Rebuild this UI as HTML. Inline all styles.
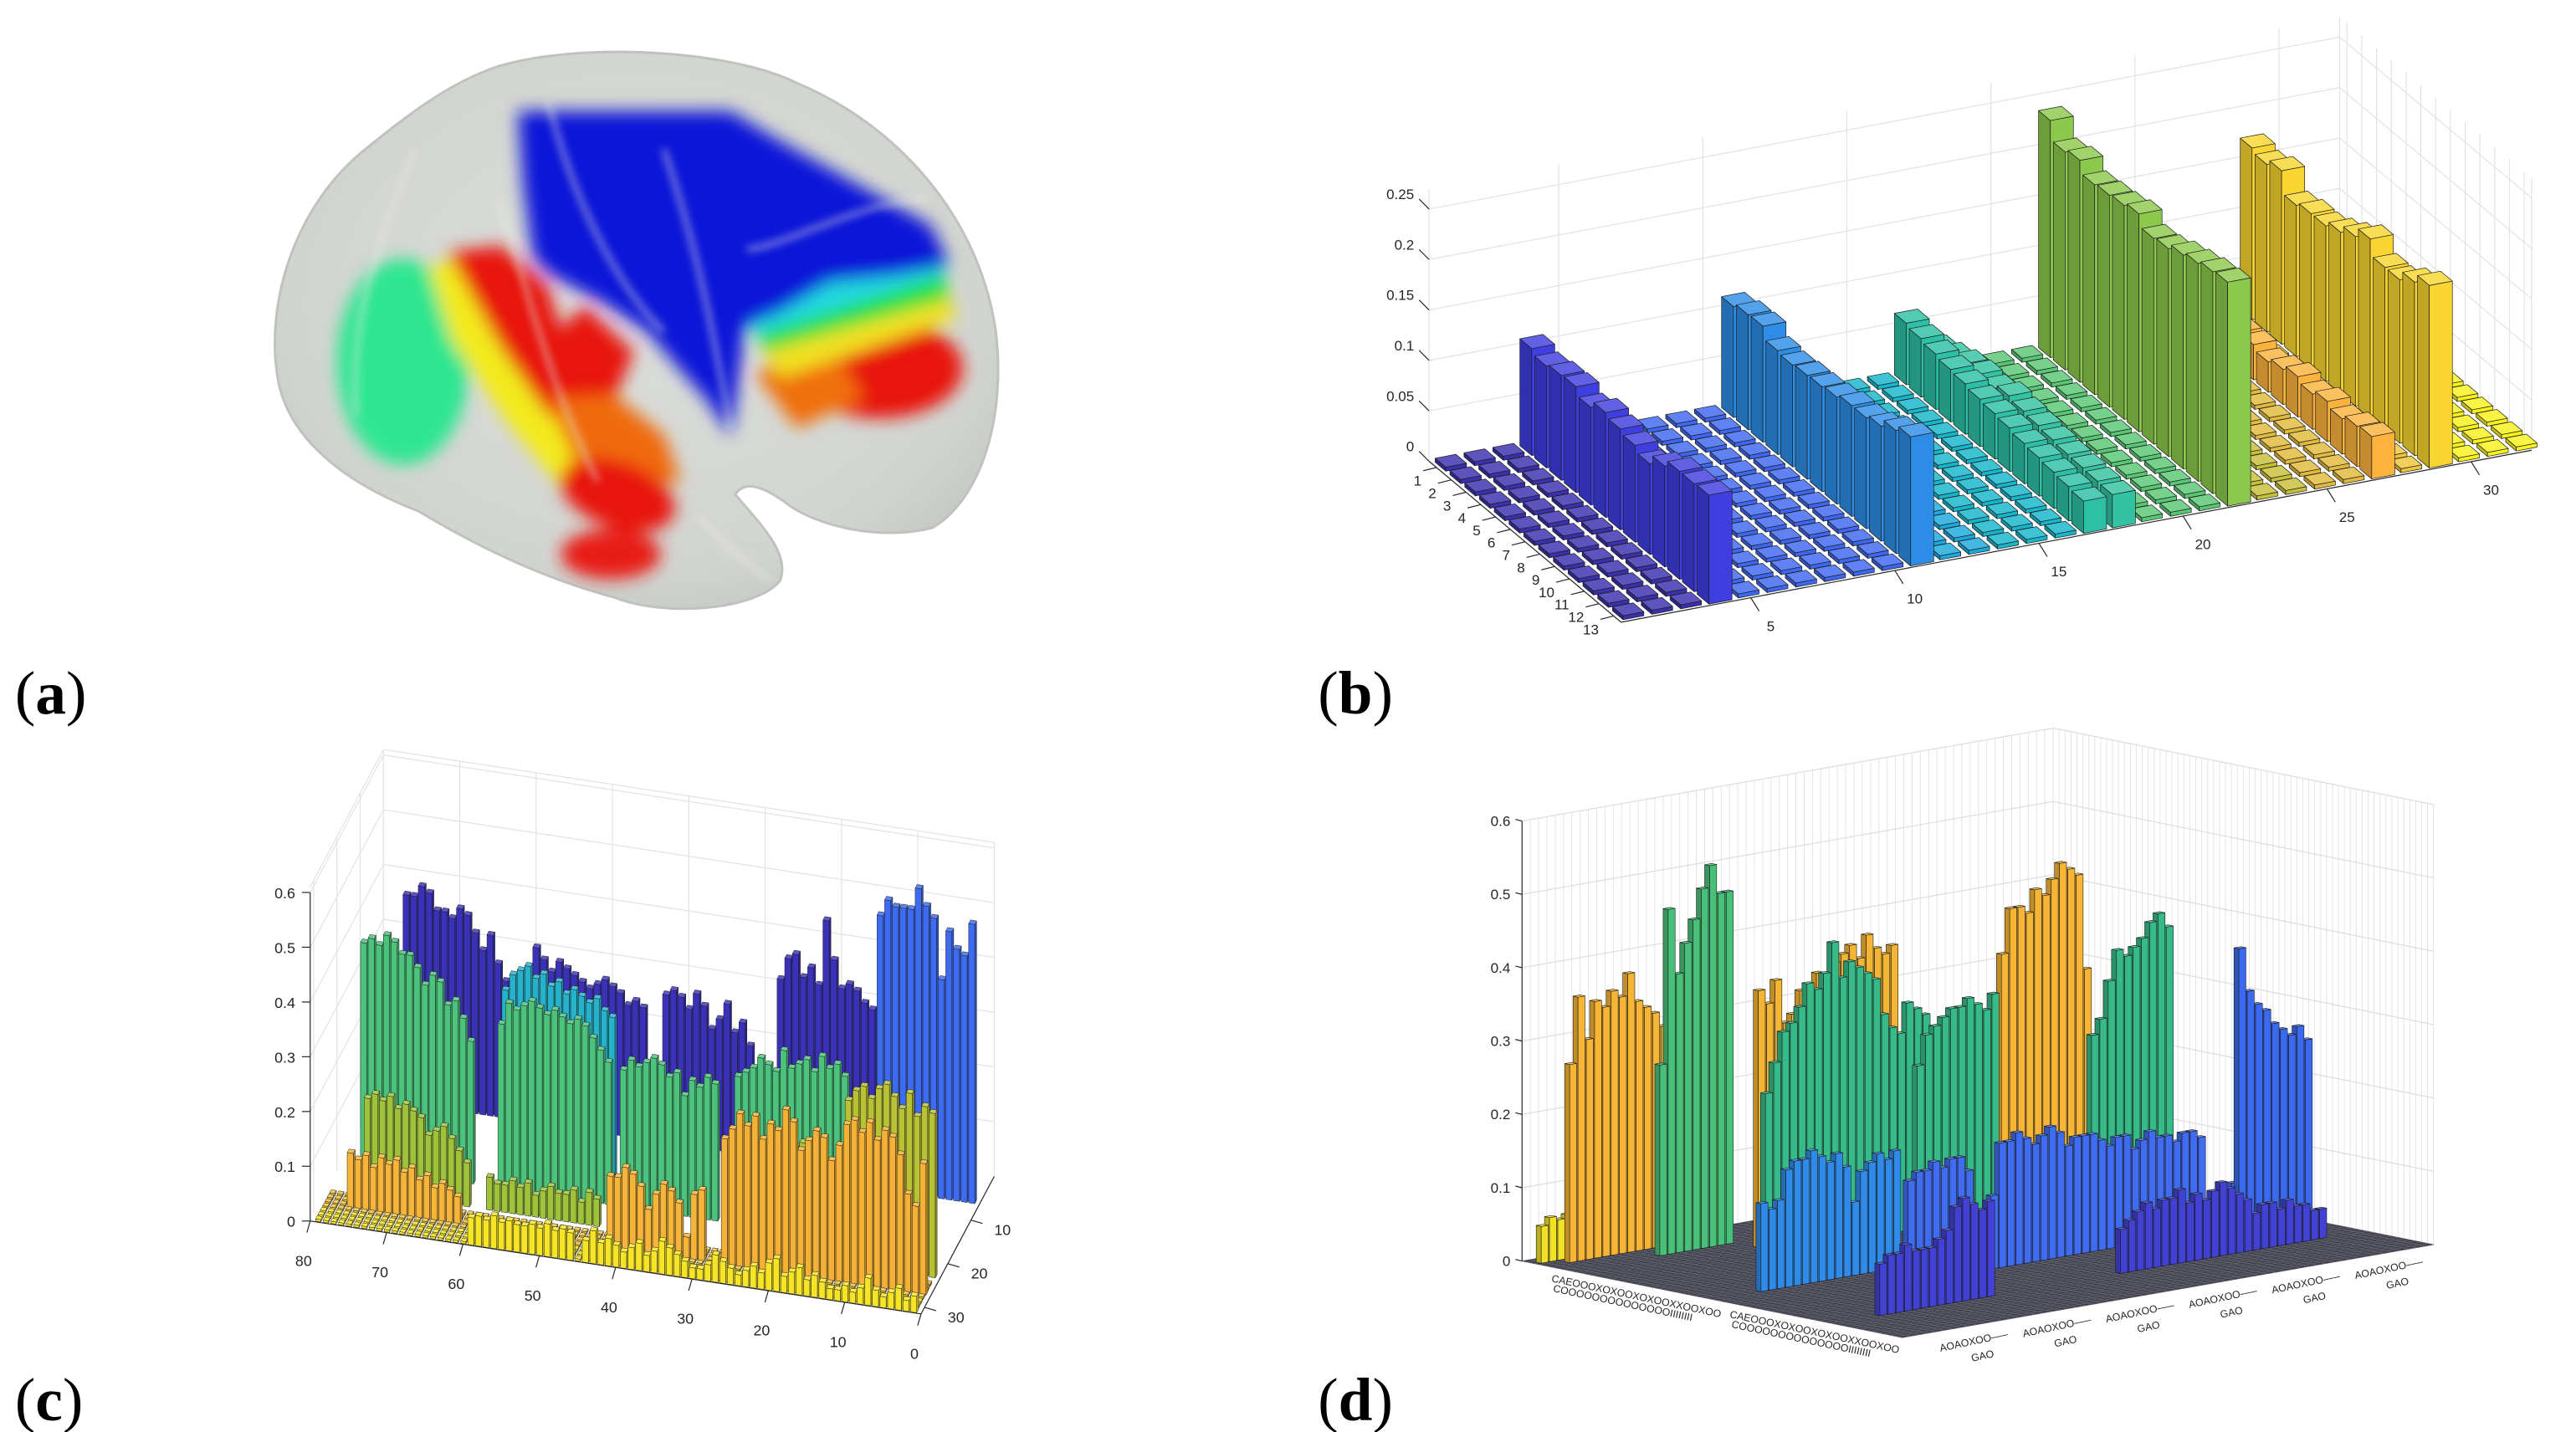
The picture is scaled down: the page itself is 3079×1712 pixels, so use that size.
<!DOCTYPE html>
<html>
<head>
<meta charset="utf-8">
<style>
html,body{margin:0;padding:0;background:#fff;}
svg{display:block;}
text{font-family:"Liberation Sans",sans-serif;}
</style>
</head>
<body>
<svg id="fig" xmlns="http://www.w3.org/2000/svg" width="3079" height="1712" viewBox="0 0 1552 863" preserveAspectRatio="none">
<defs>
  <filter id="blur" x="-30%" y="-30%" width="160%" height="160%"><feGaussianBlur stdDeviation="5"/></filter>
  <filter id="blur2" x="-30%" y="-30%" width="160%" height="160%"><feGaussianBlur stdDeviation="2.5"/></filter>
  <radialGradient id="brainGrad" cx="50%" cy="45%" r="60%">
    <stop offset="0%" stop-color="#dcdedb"/>
    <stop offset="80%" stop-color="#d2d4d0"/>
    <stop offset="100%" stop-color="#c4c7c3"/>
  </radialGradient>
  <clipPath id="brainClip">
    <path d="M300,40 C350,25 440,30 480,50 C540,75 590,130 600,200 C606,250 592,300 562,318 C532,326 492,318 472,302 C458,292 448,290 443,298 C460,318 476,334 470,350 C455,368 400,372 370,360 C332,350 292,332 252,308 C205,290 172,262 167,226 C160,178 180,122 220,90 C245,70 270,50 300,40 Z"/>
  </clipPath>
</defs>

<g id="panelA">
  <path d="M300,40 C350,25 440,30 480,50 C540,75 590,130 600,200 C606,250 592,300 562,318 C532,326 492,318 472,302 C458,292 448,290 443,298 C460,318 476,334 470,350 C455,368 400,372 370,360 C332,350 292,332 252,308 C205,290 172,262 167,226 C160,178 180,122 220,90 C245,70 270,50 300,40 Z" fill="url(#brainGrad)" stroke="#bfc2be" stroke-width="1.5"/>
  <g clip-path="url(#brainClip)">
    <g filter="url(#blur)">
      <ellipse cx="243" cy="218" rx="40" ry="62" fill="#2fe690"/>
      <polygon points="258,160 286,156 318,215 345,262 356,282 335,290 306,255 272,205" fill="#f2ea1c"/>
      <polygon points="270,152 302,148 330,172 338,198 352,184 382,212 368,246 350,258 330,250 302,210 284,178" fill="#e8180f"/>
      <polygon points="330,240 370,238 400,262 410,290 380,292 345,275" fill="#f06a10"/>
      <ellipse cx="372" cy="298" rx="36" ry="20" fill="#e8150e" transform="rotate(20 372 298)"/>
      <ellipse cx="368" cy="334" rx="30" ry="15" fill="#e81a14"/>
      <ellipse cx="530" cy="222" rx="50" ry="30" fill="#e8180f"/>
      <polygon points="455,225 500,205 520,240 480,258" fill="#f07010"/>
      <polygon points="455,202 570,170 576,192 470,228" fill="#f0e020"/>
      <polygon points="452,192 568,160 572,180 460,212" fill="#20e040"/>
      <polygon points="448,186 565,150 568,166 455,202" fill="#20d8e0"/>
      <polygon points="312,67 440,67 470,85 561,136 572,160 540,166 500,170 470,188 449,197 445,230 440,262 425,240 415,229 390,200 364,183 330,165 321,155 315,110" fill="#0a14d8"/>
    </g>
    <g filter="url(#blur2)" opacity="0.55" fill="none" stroke="#e8eae6" stroke-width="3">
      <path d="M330,60 C345,120 370,170 400,200"/>
      <path d="M400,90 C420,150 430,200 440,260"/>
      <path d="M300,120 C320,180 330,230 360,290"/>
      <path d="M450,150 C470,150 520,120 560,120"/>
      <path d="M250,90 C230,140 210,190 215,250"/>
      <path d="M420,310 C440,330 455,345 465,350"/>
    </g>
  </g>
</g>

<g id="panelB"></g>
<g id="panelC"></g>
<g id="panelD"></g>

<text x="9" y="430" font-size="37" style="font-family:'Liberation Serif',serif">(<tspan font-weight="bold">a</tspan>)</text>
<text x="794" y="430" font-size="37" style="font-family:'Liberation Serif',serif">(<tspan font-weight="bold">b</tspan>)</text>
<text x="9" y="856" font-size="37" style="font-family:'Liberation Serif',serif">(<tspan font-weight="bold">c</tspan>)</text>
<text x="794" y="856" font-size="37" style="font-family:'Liberation Serif',serif">(<tspan font-weight="bold">d</tspan>)</text>
</svg>

<script>
/* ================= DATA: panel (b) ================= */
const bCols = 32;
const bRows = 13;
const bWallX = [4, 11, 17, 18, 22, 27, 29];
const bWallBlue = [0.106,0.101,0.104,0.105,0.097,0.104,0.100,0.096,0.090,0.100,0.107,0.107,0.108];
const bWallLightBlue = [0.110,0.114,0.115,0.103,0.101,0.103,0.104,0.106,0.110,0.110,0.114,0.122,0.128];
const bWallTealA = [0.061,0.058,0.055,0.052,0.050,0.047,0.045,0.043,0.040,0.038,0.036,0.034,0.032];
const bWallTealB = [0.030,0.035,0.040,0.042,0.040,0.045,0.042,0.040,0.038,0.036,0.035,0.034,0.033];
const bWallGreen = [0.235,0.216,0.220,0.208,0.210,0.212,0.216,0.204,0.206,0.212,0.216,0.220,0.222];
const bWallOrange = [0.020,0.025,0.030,0.035,0.035,0.030,0.035,0.040,0.035,0.040,0.035,0.040,0.042];
const bWallYellow = [0.170,0.166,0.172,0.150,0.154,0.154,0.160,0.168,0.178,0.162,0.162,0.172,0.181];
const bZTicks = [0, 0.05, 0.1, 0.15, 0.2, 0.25];
const bZLabels = ['0','0.05','0.1','0.15','0.2','0.25'];
const bXTicks = [5, 10, 15, 20, 25, 30];
const bXLabels = ['5','10','15','20','25','30'];
const bYTicks = [1,2,3,4,5,6,7,8,9,10,11,12,13];
const bYLabels = ['1','2','3','4','5','6','7','8','9','10','11','12','13'];

/* ================= DATA: panel (c) ================= */
const cXTicks = [0,10,20,30,40,50,60,70,80];
const cXLabels = ['0','10','20','30','40','50','60','70','80'];
const cYTicks = [10,20,30];
const cYLabels = ['10','20','30'];
const cZTicks = [0,0.1,0.2,0.3,0.4,0.5,0.6];
const cZLabels = ['0','0.1','0.2','0.3','0.4','0.5','0.6'];
const cDarkA = [0.25,0.28,0.33,0.30,0.33,0.36,0.37,0.35,0.36,0.36,0.39,0.40,0.38,0.38];
const cDarkB = [0.24,0.25,0.24,0.26,0.27,0.28,0.27,0.26,0.27,0.28,0.29,0.30,0.28,0.30,0.32];
const cDarkC = [0.20,0.24,0.22,0.27,0.24,0.22,0.26,0.28,0.25,0.27,0.28,0.27];
const cDarkD = [0.30,0.31,0.33,0.34,0.33,0.38,0.45,0.33,0.36,0.34,0.38,0.37,0.33];
const cBlueWall = [0.51,0.45,0.46,0.49,0.40,0.51,0.53,0.56,0.52,0.52,0.52,0.53,0.50];
const cCyan = [0.30,0.31,0.33,0.32,0.33,0.34,0.33,0.35,0.34,0.36,0.35,0.37,0.36,0.35,0.32];
const cGreenA = [0.26,0.30,0.33,0.32,0.36,0.37,0.35,0.38,0.40,0.40,0.42,0.43,0.41,0.42,0.41];
const cGreenB = [0.26,0.28,0.30,0.32,0.33,0.32,0.33,0.34,0.33,0.34,0.35,0.34,0.33,0.34,0.30];
const cGreenC = [0.25,0.26,0.24,0.25,0.22,0.26,0.25,0.27,0.28,0.27,0.26,0.27,0.25];
const cGreenD = [0.30,0.32,0.31,0.33,0.30,0.32,0.31,0.30,0.33,0.29,0.30,0.31,0.29,0.28,0.27];
const cOliveA = [0.08,0.10,0.12,0.14,0.13,0.12,0.15,0.16,0.17,0.16,0.18,0.17,0.18,0.17];
const cOliveB = [0.05,0.06,0.04,0.06,0.05,0.05,0.06,0.05,0.04,0.06,0.05,0.06,0.05,0.05,0.06];
const cOliveC = [0.15,0.17,0.18,0.20,0.19,0.21,0.20,0.18,0.19,0.20,0.17,0.19,0.21,0.20,0.16];
const cOliveD = [0.30,0.31,0.29,0.33,0.30,0.32,0.34,0.33,0.31,0.33,0.32,0.30];
const cOrangeA = [0.05,0.06,0.07,0.06,0.08,0.07,0.09,0.08,0.10,0.09,0.10,0.08,0.10,0.09,0.10];
const cOrangeB = [0.13,0.12,0.04,0.10,0.12,0.13,0.11,0.08,0.12,0.14,0.15,0.13,0.13];
const cOrangeC = [0.22,0.26,0.27,0.25,0.23,0.28,0.30,0.26,0.27,0.24,0.28,0.26,0.28,0.25,0.23];
const cOrangeD = [0.24,0.16,0.18,0.25,0.28,0.29,0.27,0.30,0.28,0.30,0.29,0.25];
const cYellowA = [0.05,0.055,0.05,0.06,0.05,0.055,0.05,0.05,0.055,0.05,0.06,0.05,0.055,0.05];
const cYellowB = [0.03,0.02,0.04,0.03,0.02,0.03,0.05,0.03,0.02,0.03,0.02,0.02,0.03,0.04,0.03,0.05,0.04,0.03,0.06,0.05,0.03,0.04,0.03,0.02,0.03,0.04,0.05,0.03,0.02,0.02,0.03,0.04,0.05,0.06,0.04,0.03,0.05,0.04,0.03,0.04,0.05,0.04,0.06,0.04];
const cSegments = [
  [3, 63, cDarkA, '#3b31b8'], [3, 45, cDarkB, '#3b31b8'], [3, 31, cDarkC, '#3b31b8'], [3, 15, cDarkD, '#3b31b8'],
  [6, 1, cBlueWall, '#3d6cf2'],
  [13, 46, cCyan, '#27b2cc'],
  [18, 63, cGreenA, '#4cc37c'], [18, 45, cGreenB, '#4cc37c'], [18, 31, cGreenC, '#4cc37c'], [18, 14, cGreenD, '#4cc37c'],
  [23, 62, cOliveA, '#9fc23b'], [23, 45, cOliveB, '#9fc23b'], [23, 13, cOliveC, '#a8c038'], [23, 1, cOliveD, '#b8c232'],
  [27, 62, cOrangeA, '#f6b438'], [27, 30, cOrangeB, '#f6b438'], [27, 13, cOrangeC, '#f4b136'], [27, 1, cOrangeD, '#f4b136'],
  [31, 46, cYellowA, '#f6e526'], [31, 1, cYellowB, '#f6e526']
];

/* ================= DATA: panel (d) ================= */
const dZTicks = [0,0.1,0.2,0.3,0.4,0.5,0.6];
const dZLabels = ['0','0.1','0.2','0.3','0.4','0.5','0.6'];
const dYellow = [0.05,0.06,0.055,0.06];
const dOrangeA = [0.27,0.36,0.30,0.35,0.34,0.36,0.35,0.38,0.34,0.33,0.32,0.30];
const dGreenA = [0.26,0.47,0.38,0.42,0.45,0.49,0.52,0.48,0.48];
const dOrangeB = [0.35,0.33,0.36,0.30,0.31,0.34,0.33,0.36,0.35,0.37,0.38,0.39,0.37,0.40,0.38,0.37,0.38];
const dGreenB = [0.22,0.26,0.30,0.31,0.33,0.36,0.35,0.37,0.41,0.36,0.38,0.37,0.36,0.35,0.30,0.28,0.27,0.31,0.30,0.29];
const dGreenC = [0.24,0.28,0.29,0.30,0.31,0.31,0.32,0.31,0.30,0.32];
const dOrangeC = [0.36,0.42,0.42,0.41,0.44,0.43,0.45,0.47,0.46,0.45,0.32];
const dGreenD = [0.24,0.26,0.31,0.35,0.34,0.35,0.36,0.38,0.39,0.37];
const dBlueE = [0.39,0.33,0.31,0.30,0.28,0.27,0.26,0.27,0.25];
const dLightBlue = [0.12,0.11,0.12,0.16,0.17,0.17,0.18,0.17,0.16,0.17,0.15,0.10,0.14,0.15,0.16,0.15,0.16];
const dBlueA = [0.14,0.15,0.15,0.16,0.15,0.16,0.16,0.14];
const dBlueB = [0.10,0.17,0.17,0.18,0.17,0.16,0.17,0.18,0.17];
const dBlueC = [0.15,0.16,0.16,0.16,0.15,0.14,0.15,0.15,0.13,0.14,0.15,0.14,0.14,0.13,0.14,0.14,0.13];
const dBlueD = [0.06,0.07,0.07,0.08,0.08,0.09,0.09];
const dDarkA = [0.07,0.08,0.08,0.09,0.08,0.08,0.08,0.09,0.10,0.13,0.14,0.13,0.12,0.13];
const dDarkB = [0.06,0.07,0.08,0.09,0.08,0.09,0.09,0.10,0.08,0.09,0.08,0.09,0.10,0.09,0.08,0.07];
const dDarkC = [0.05,0.06,0.06,0.05,0.06,0.05,0.05,0.04,0.04];
const dSegments = [
  [2, 1, dYellow, '#f2e227'],
  [4, 3, dOrangeA, '#f6b535'],
  [8, 11, dGreenA, '#49c07a'],
  [12, 20, dOrangeB, '#f4b434'],
  [16, 18, dGreenB, '#36bb88'],
  [18, 45, dOrangeC, '#f6b535'],
  [22, 32, dGreenC, '#36bb88'],
  [22, 53, dGreenD, '#36bb88'],
  [32, 6, dLightBlue, '#2f8ae8'],
  [40, 18, dBlueA, '#3f6cf0'], [40, 28, dBlueB, '#3f6cf0'], [40, 37, dBlueC, '#3f6cf0'], [40, 57, dBlueD, '#3f6cf0'],
  [44, 55, dBlueE, '#3b6af0'],
  [52, 6, dDarkA, '#4142d4'], [52, 35, dDarkB, '#4142d4'], [52, 51, dDarkC, '#4142d4']
];

/* ================= helpers ================= */
const NS = 'http://www.w3.org/2000/svg';
function mk(tag, parent){ const e = document.createElementNS(NS, tag); parent.appendChild(e); return e; }
function mix(hex, t, target){
  const n = parseInt(hex.slice(1), 16);
  let r = (n>>16)&255, g = (n>>8)&255, b = n&255;
  r = Math.round(r + (target - r)*t); g = Math.round(g + (target - g)*t); b = Math.round(b + (target - b)*t);
  return 'rgb(' + r + ',' + g + ',' + b + ')';
}
function pts(arr){ return arr.map(p => p[0].toFixed(2) + ',' + p[1].toFixed(2)).join(' '); }
function drawLine(parent, p, q, stroke, sw, name){
  const e = mk('line', parent);
  e.setAttribute('x1', p[0]); e.setAttribute('y1', p[1]); e.setAttribute('x2', q[0]); e.setAttribute('y2', q[1]);
  e.setAttribute('stroke', stroke); e.setAttribute('stroke-width', sw);
  
  
  return e;
}
function drawText(parent, x, y, str, size, anchor, name, rot){
  const e = mk('text', parent);
  e.setAttribute('x', x); e.setAttribute('y', y);
  e.setAttribute('font-size', size); e.setAttribute('text-anchor', anchor); e.setAttribute('fill', '#262626');
  if (rot) e.setAttribute('transform', 'rotate(' + rot + ' ' + x + ' ' + y + ')');
  e.textContent = str;
  
  
  return e;
}
function drawPoly(parent, arr, fill, stroke, sw, name){
  const e = mk('polygon', parent);
  e.setAttribute('points', pts(arr));
  e.setAttribute('fill', fill);
  if (stroke){ e.setAttribute('stroke', stroke); e.setAttribute('stroke-width', sw); e.setAttribute('stroke-linejoin', 'round'); }
  
  
  return e;
}
function drawBar(parent, proj, a, b, h, w, color, name, sw){
  const g = mk('g', parent);
  
  
  const a0 = a - w, a1 = a + w, b0 = b - w, b1 = b + w;
  const st = '#1e1e1e';
  drawPoly(g, [proj(a0,b0,0), proj(a0,b1,0), proj(a0,b1,h), proj(a0,b0,h)], mix(color, 0.22, 0), st, sw, 'bar-side-face');
  drawPoly(g, [proj(a0,b1,0), proj(a1,b1,0), proj(a1,b1,h), proj(a0,b1,h)], color, st, sw, 'bar-front-face');
  drawPoly(g, [proj(a0,b0,h), proj(a1,b0,h), proj(a1,b1,h), proj(a0,b1,h)], mix(color, 0.18, 255), st, sw, 'bar-top-face');
}
function sortBars(list){ list.sort((p, q) => (p.b - q.b) || (q.a - p.a)); }

/* ================= panel (b) ================= */
(function(){
  const g = document.getElementById('panelB');
  const proj = (x, y, z) => [861 + (x-0.5)*17.36 + (y-0.5)*8.9, 278 - (x-0.5)*3.28 + (y-0.5)*7.46 - z*608];
  const zMax = 0.27, xMin = 0.5, xMax = 32.1, yMin = 0.5, yMax = 13.5;
  const colColors = ['#3b2fae','#3b2fae','#3b2fae','#3f3ee0','#3d66f2','#3d66f2','#3d66f2','#3d66f2','#3d66f2','#3d66f2',
    '#2d8de6','#1aa8dd','#1aa8dd','#14b6cc','#14b6cc','#14b6cc','#2cc0a6','#33c3a0','#58c774','#58c774','#58c774','#8cc84c',
    '#c8bf38','#c8bf38','#e2b93a','#e2b93a','#fbb33c','#f0c53a','#f8d530','#f8f21a','#f8f21a','#f8f21a'];
  const wallSeries = [bWallBlue, bWallLightBlue, bWallTealA, bWallTealB, bWallGreen, bWallOrange, bWallYellow];
  const grid = mk('g', g);
  
  
  bZTicks.forEach(z => { if (z > 0) drawLine(grid, proj(xMin,yMin,z), proj(xMax,yMin,z), '#e2e2e2', 0.6, 'back-wall-gridline'); });
  bXTicks.forEach(x => drawLine(grid, proj(x,yMin,0), proj(x,yMin,zMax), '#e2e2e2', 0.6, 'back-wall-gridline'));
  drawLine(grid, proj(xMin,yMin,0), proj(xMin,yMin,zMax), '#e2e2e2', 0.6, 'back-wall-edge');
  drawLine(grid, proj(xMax,yMin,0), proj(xMax,yMin,zMax), '#e2e2e2', 0.6, 'back-wall-edge');
  bZTicks.forEach(z => { if (z > 0) drawLine(grid, proj(xMax,yMin,z), proj(xMax,yMax,z), '#e2e2e2', 0.6, 'side-wall-gridline'); });
  bYTicks.forEach(y => drawLine(grid, proj(xMax,y,0), proj(xMax,y,zMax), '#e2e2e2', 0.6, 'side-wall-gridline'));
  drawLine(grid, proj(xMax,yMax,0), proj(xMax,yMax,zMax), '#e2e2e2', 0.6, 'side-wall-edge');
  const bars = [];
  for (let x = 1; x <= bCols; x++){
    const wi = bWallX.indexOf(x);
    for (let y = 1; y <= bRows; y++){
      const h = wi >= 0 ? wallSeries[wi][y-1] : 0.004;
      bars.push({a: x, b: y, h: h, c: colColors[x-1], tile: wi < 0});
    }
  }
  sortBars(bars);
  const bg = mk('g', g);
  
  
  bars.forEach(r => drawBar(bg, proj, r.a, r.b, r.h, r.tile ? 0.36 : 0.4, r.c, r.tile ? 'floor-tile' : 'bar', 0.35));
  const ax = mk('g', g);
  
  
  drawLine(ax, proj(xMin,yMax,0), proj(xMax,yMax,0), '#262626', 0.6, 'x-axis-line');
  drawLine(ax, proj(xMin,yMin,0), proj(xMin,yMax,0), '#262626', 0.6, 'y-axis-line');
  bZTicks.forEach((z, i) => {
    const p = proj(xMin, yMin, z);
    drawLine(ax, p, [p[0]-6, p[1]-6], '#262626', 0.6, 'z-tick');
    drawText(ax, p[0]-9, p[1]-6, bZLabels[i], 8.6, 'end', 'z-tick-label');
  });
  bXTicks.forEach((x, i) => {
    const p = proj(x, yMax, 0);
    drawLine(ax, p, [p[0]+5, p[1]+8], '#262626', 0.6, 'x-tick');
    drawText(ax, p[0]+12, p[1]+20, bXLabels[i], 8.6, 'middle', 'x-tick-label');
  });
  bYTicks.forEach((y, i) => {
    const p = proj(xMin, y, 0);
    drawLine(ax, p, [p[0]-8, p[1]+2], '#262626', 0.6, 'y-tick');
    drawText(ax, p[0]-9, p[1]+11, bYLabels[i], 8.6, 'end', 'y-tick-label');
  });
})();

/* ================= panel (c) ================= */
(function(){
  const g = document.getElementById('panelC');
  const proj = (x, y, z) => [599 - 4.6*x - 1.4*y, 709 - 0.7*x + 2.63*y - 330*z];
  const zMax = 0.61, yFront = 31.5;
  const grid = mk('g', g);
  
  
  cZTicks.forEach(z => { if (z > 0) drawLine(grid, proj(80,0,z), proj(0,0,z), '#e2e2e2', 0.6, 'back-wall-gridline'); });
  cXTicks.forEach(x => drawLine(grid, proj(x,0,0), proj(x,0,zMax), '#e2e2e2', 0.6, 'back-wall-gridline'));
  cZTicks.forEach(z => { if (z > 0) drawLine(grid, proj(80,0,z), proj(80,yFront,z), '#e2e2e2', 0.6, 'side-wall-gridline'); });
  cYTicks.forEach(y => drawLine(grid, proj(80,y,0), proj(80,y,zMax), '#e2e2e2', 0.6, 'side-wall-gridline'));
  drawLine(grid, proj(80,0,zMax), proj(80,yFront,zMax), '#e2e2e2', 0.6, 'side-wall-edge');
  drawLine(grid, proj(80,0,zMax), proj(0,0,zMax), '#e2e2e2', 0.6, 'back-wall-edge');
  const bars = [];
  const used = new Set();
  cSegments.forEach(seg => {
    const y = seg[0], x0 = seg[1], vals = seg[2], col = seg[3];
    vals.forEach((v, k) => { bars.push({a: x0 + k, b: y, h: v, c: col, tile: false}); used.add((x0+k) + ',' + y); });
  });
  for (let y = 25; y <= 31; y++){
    for (let x = 1; x <= 79; x++){
      if (!used.has(x + ',' + y)) bars.push({a: x, b: y, h: 0.004, c: y >= 29 ? '#f6e526' : '#eec23c', tile: true});
    }
  }
  sortBars(bars);
  const bg = mk('g', g);
  
  
  bars.forEach(r => drawBar(bg, proj, r.a, r.b, r.h, r.tile ? 0.34 : 0.4, r.c, r.tile ? 'floor-tile' : 'bar', 0.25));
  const ax = mk('g', g);
  
  
  drawLine(ax, proj(80,yFront,0), proj(80,yFront,0.6), '#262626', 0.6, 'z-axis-line');
  drawLine(ax, proj(80,yFront,0), proj(0,yFront,0), '#262626', 0.6, 'x-axis-line');
  drawLine(ax, proj(0,0,0), proj(0,yFront,0), '#262626', 0.6, 'y-axis-line');
  cZTicks.forEach((z, i) => {
    const p = proj(80, yFront, z);
    drawLine(ax, p, [p[0]-5, p[1]], '#262626', 0.6, 'z-tick');
    drawText(ax, p[0]-9, p[1]+3.5, cZLabels[i], 9, 'end', 'z-tick-label');
  });
  cXTicks.forEach((x, i) => {
    const p = proj(x, yFront, 0);
    drawLine(ax, p, [p[0]-2, p[1]+7], '#262626', 0.6, 'x-tick');
    drawText(ax, p[0]-4, p[1]+27, cXLabels[i], 9, 'middle', 'x-tick-label');
  });
  cYTicks.forEach((y, i) => {
    const p = proj(0, y, 0);
    drawLine(ax, p, [p[0]+7, p[1]+2], '#262626', 0.6, 'y-tick');
    drawText(ax, p[0]+19, p[1]+9, cYLabels[i], 9, 'middle', 'y-tick-label');
  });
})();

/* ================= panel (d) ================= */
(function(){
  const g = document.getElementById('panelD');
  const proj = (j, i, z) => [917 + 3.58*i + 5*j, 760 + 0.72*i - 0.875*j - 442*z];
  const N = 64, zMax = 0.6;
  const grid = mk('g', g);
  
  
  for (let j = 0; j <= N; j++) drawLine(grid, proj(j,0,0), proj(j,0,zMax), '#e4e4e4', 0.5, 'left-wall-gridline');
  for (let i = 0; i <= N; i++) drawLine(grid, proj(N,i,0), proj(N,i,zMax), '#e4e4e4', 0.5, 'right-wall-gridline');
  dZTicks.forEach(z => {
    if (z > 0){
      drawLine(grid, proj(0,0,z), proj(N,0,z), '#dcdcdc', 0.6, 'left-wall-gridline');
      drawLine(grid, proj(N,0,z), proj(N,N,z), '#dcdcdc', 0.6, 'right-wall-gridline');
    }
  });
  drawPoly(g, [proj(0,0,0), proj(N,0,0), proj(N,N,0), proj(0,N,0)], '#42424f', '#222', 0.4, 'floor');
  const fl = mk('g', g);
  
  
  for (let k = 0; k <= N; k += 1){
    drawLine(fl, proj(k,0,0), proj(k,N,0), '#6a6a78', 0.3, 'floor-gridline');
    drawLine(fl, proj(0,k,0), proj(N,k,0), '#6a6a78', 0.3, 'floor-gridline');
  }
  const bars = [];
  dSegments.forEach(seg => {
    const i = seg[0], j0 = seg[1], vals = seg[2], col = seg[3];
    vals.forEach((v, k) => bars.push({a: j0 + k, b: i, h: v, c: col}));
  });
  sortBars(bars);
  const bg = mk('g', g);
  
  
  bars.forEach(r => drawBar(bg, proj, r.a, r.b, r.h, 0.42, r.c, 'bar', 0.3));
  const ax = mk('g', g);
  
  
  drawLine(ax, proj(0,0,0), proj(0,0,zMax), '#262626', 0.6, 'z-axis-line');
  dZTicks.forEach((z, i) => {
    const p = proj(0, 0, z);
    drawLine(ax, p, [p[0]-4, p[1]-1], '#262626', 0.6, 'z-tick');
    drawText(ax, p[0]-7, p[1]+3, dZLabels[i], 8.6, 'end', 'z-tick-label');
  });
  const leftLabels = ['CAEOOOXOXOOXOXOOXXOOXOO', 'COOOOOOOOOOOOOOIIIIIIII'];
  [[6, 0], [36, 1]].forEach(pair => {
    const i0 = pair[0];
    leftLabels.forEach((s, k) => {
      const p = proj(0, i0, 0);
      drawText(ax, p[0] - 4 + k*1, p[1] + 8 + k*6, s, 6.2, 'start', 'x-tick-label', 12);
    });
  });
  const rightGroups = [4, 14, 24, 34, 44, 54];
  rightGroups.forEach(j => {
    const p = proj(j, N, 0);
    drawText(ax, p[0]+3, p[1]+12, 'AOAOXOO\u2013\u2013\u2013', 6.2, 'start', 'y-tick-label', -12);
    drawText(ax, p[0]+22, p[1]+18, 'GAO', 6.2, 'start', 'y-tick-label', -12);
  });
})();
</script>
</body>
</html>
